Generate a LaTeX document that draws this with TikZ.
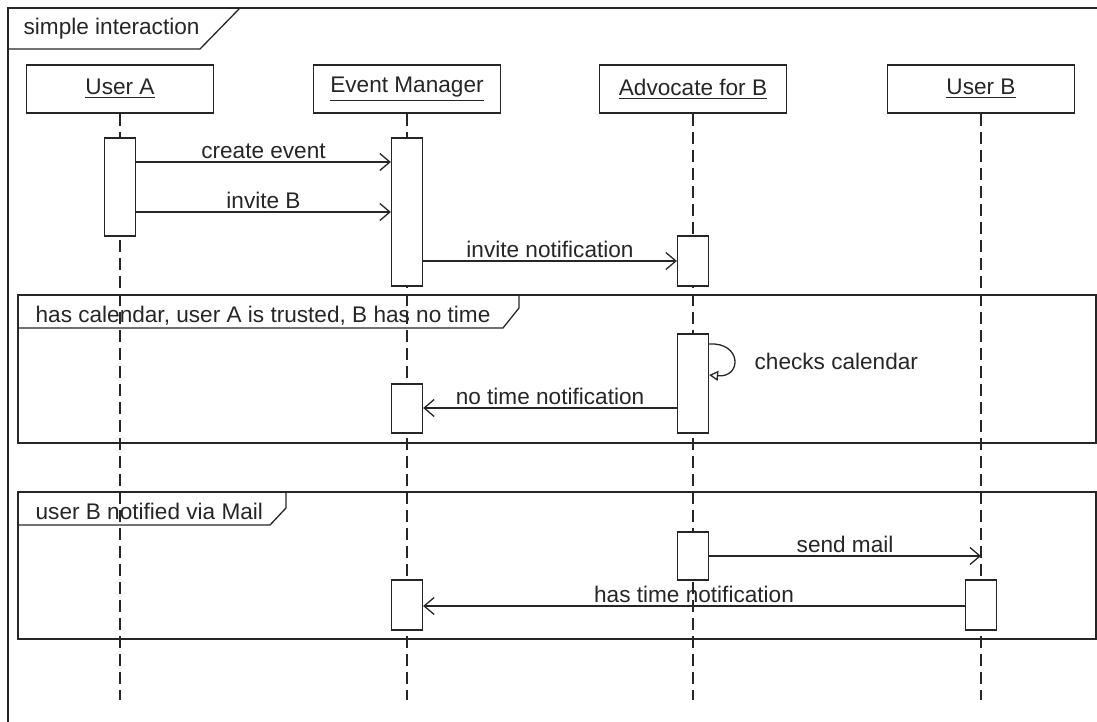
\documentclass[tikz,border=0pt]{standalone}
\usepackage{fontspec}
\setmainfont{Liberation Sans}
\usetikzlibrary{arrows.meta,fit}

\begin{document}
\begin{tikzpicture}[x=0.5pt,y=-0.5pt,line width=0.65pt,color=black!85,
    font=\fontsize{11.3}{13.5}\selectfont,
    head/.style={draw,minimum width=93.5pt,minimum height=24pt,inner sep=0pt},
    lifeline/.style={dash pattern=on 6pt off 3pt},
    bar/.style={draw,fill=white,inner sep=0pt},
    msg/.style={-{Straight Barb[length=5pt,width=8.5pt]}},
    lbl/.style={above,inner sep=1.5pt},
    tab/.style={anchor=base west,inner sep=0pt}]
  \useasboundingbox (0,0) rectangle (1097,722);

  \draw (1100,8) -- (8,8) -- (8,725);
  \node[tab] (title) at (23,35) {simple interaction};
  \draw (8,49) -- (200,49) -- (240,8);

  \node[head] (ua) at (120,89) {\underline{User A}};
  \node[head] (em) at (407,89) {\underline{Event Manager}};
  \node[head] (adv) at (693,89) {\underline{Advocate for B}};
  \node[head] (ub) at (981,89) {\underline{User B}};

  \coordinate (bottom) at (0,700);
  \foreach \n in {ua,em,adv,ub}
    \draw[lifeline] (\n.south) -- (\n.south |- bottom);

  \draw (18,295) rectangle (1096,443);
  \node[tab] (altA) at (35,322) {has calendar, user A is trusted, B has no time};
  \draw (18,328) -- (503,328) -- (519,308) -- (519,295);

  \draw (18,492) rectangle (1096,639);
  \node[tab] (altB) at (35,519) {user B notified via Mail};
  \draw (18,525) -- (270,525) -- (286,508) -- (286,492);

  \node[bar,fit={(104.5,138) (135.5,236)}] (ua1) {};
  \node[bar,fit={(391.5,138) (422.5,286)}] (em1) {};
  \node[bar,fit={(677.5,236) (708.5,286)}] (adv1) {};
  \node[bar,fit={(677.5,334) (708.5,433)}] (adv2) {};
  \node[bar,fit={(391.5,384) (422.5,433)}] (em2) {};
  \node[bar,fit={(677.5,532) (708.5,580)}] (adv3) {};
  \node[bar,fit={(391.5,580) (422.5,630)}] (em3) {};
  \node[bar,fit={(965.5,580) (996.5,630)}] (ub1) {};

  \draw[msg] (ua1.east |- 0,162) -- node[lbl] {create event} (em1.west |- 0,162);
  \draw[msg] (ua1.east |- 0,212) -- node[lbl] {invite B} (em1.west |- 0,212);
  \draw[msg] (em1.east |- 0,261) -- node[lbl] {invite notification} (adv1.west |- 0,261);
  \draw[-{Triangle[open,length=4.5pt,width=5pt]}] (adv2.east |- 0,344)
    .. controls (742,342) and (742,378) .. (adv2.east |- 0,375);
  \node[anchor=west,inner sep=0pt] (check) at (754,361) {checks calendar};
  \draw[msg] (adv2.west |- 0,408) -- node[lbl] {no time notification} (em2.east |- 0,408);
  \draw[msg] (adv3.east |- 0,556) -- node[lbl] {send mail} (ub |- 0,556);
  \draw[msg] (ub1.west |- 0,606) -- node[lbl] {has time notification} (em3.east |- 0,606);
\end{tikzpicture}
\end{document}
